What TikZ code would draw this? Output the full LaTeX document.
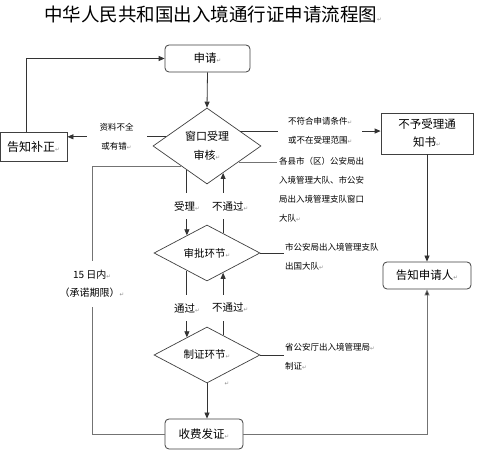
\documentclass[tikz,border=0pt]{standalone}
\usepackage{fontspec}
\setmainfont{Liberation Sans}
\newfontfamily\cjk{Noto Sans CJK SC}
\newfontfamily\dvs{DejaVu Sans}
\usetikzlibrary{shapes.geometric,arrows.meta,calc}
\newcommand\rmk{{\dvs\fontsize{5.5}{6}\selectfont\color{black!45}↵}}
\begin{document}
\begin{tikzpicture}[x=1pt,y=-1pt,
  every node/.style={font=\cjk},
  ln/.style={draw=black!80, line width=0.8pt},
  gln/.style={draw=black!55, line width=0.8pt},
  arr/.style={ln,-{Triangle[length=6pt,width=5pt]}},
  garr/.style={gln,-{Triangle[length=6pt,width=5pt,fill=black!85]}},
  rbox/.style={draw=black!75, rounded corners=4pt, line width=0.8pt, align=center, inner sep=0},
  sbox/.style={draw=black!75, line width=0.8pt, align=center, inner sep=0},
  dia/.style={diamond, shape aspect=2, draw=black!75, line width=0.7pt, inner sep=0, align=center},
  lab/.style={fill=white, align=center, font=\cjk\fontsize{10.5}{18}\selectfont, inner xsep=1pt, inner ysep=8pt},
  slab/.style={fill=white, align=center, font=\cjk\fontsize{8.5}{19}\selectfont, inner sep=0pt},
  small/.style={font=\cjk\fontsize{8.5}{19}\selectfont, align=left, inner sep=0}
]
\useasboundingbox[fill=white] (0,0) rectangle (488,462);

% title
\node[anchor=west, inner sep=0, font=\cjk\fontsize{18.5}{20}\selectfont] (title) at (44,14) {中华人民共和国出入境通行证申请流程图\rmk};

% boxes and decisions
\node[rbox, minimum width=85, minimum height=27, font=\cjk\fontsize{11.5}{14}\selectfont] (apply) at (207.5,58.5) {申请\rmk};
\node[dia, minimum width=108, minimum height=76, font=\cjk\fontsize{11}{19}\selectfont] (d1) at (207,146) {窗口受理\\审核\rmk};
\node[sbox, minimum width=67, minimum height=29, font=\cjk\fontsize{12}{14}\selectfont] (fix) at (33.5,146.5) {告知补正\rmk};
\node[sbox, minimum width=92, minimum height=41, font=\cjk\fontsize{11.5}{18}\selectfont] (rej) at (427,133.5) {不予受理通\\知书\rmk};
\node[rbox, minimum width=88, minimum height=27, font=\cjk\fontsize{11.5}{14}\selectfont] (notify) at (427,275.5) {告知申请人\rmk};
\node[dia, minimum width=106, minimum height=56, font=\cjk\fontsize{10.5}{14}\selectfont] (d2) at (207,253) {审批环节\rmk};
\node[dia, minimum width=106, minimum height=56, font=\cjk\fontsize{10.5}{14}\selectfont] (d3) at (207,355) {制证环节\rmk};
\node[rbox, minimum width=78, minimum height=30, font=\cjk\fontsize{11.5}{14}\selectfont] (fee) at (204,434) {收费发证\rmk};

% side texts
\node[small, anchor=west] (t1) at (279,190) {各县市（区）公安局出\\入境管理大队、市公安\\局出入境管理支队窗口\\大队\rmk};
\node[small, anchor=west] (t2) at (285,257) {市公安局出入境管理支队\\出国大队\rmk};
\node[small, anchor=west] (t3) at (285,357) {省公安厅出入境管理局\rmk\\制证\rmk};
\node[inner sep=0] (stray) at (227,384) {\rmk};

% connectors
\coordinate (p1) at ($(d1.west)!0.24!(d1.north)$);
\draw[arr] (p1) -- node[slab, inner xsep=13pt, inner ysep=1pt] {资料不全\\或有错\rmk} (p1 -| fix.east);

\coordinate (p2) at ($(d1.east)!0.39!(d1.north)$);
\draw[arr] (p2) -- node[slab, pos=0.57, inner xsep=10pt, inner ysep=1pt] {不符合申请条件\rmk\\或不在受理范围\rmk} (p2 -| rej.west);

\coordinate (p3) at ($(d1.east)!0.42!(d1.south)$);
\draw[gln, shorten >=2pt] (p3) -- (p3 -| t1.west);

\coordinate (f1) at ($(fix.north west)!0.4!(fix.north east)$);
\draw[arr] (f1) |- (apply.west);
\draw[arr] (apply.south) -- (d1.north);

\coordinate (a1) at ($(d1.south)!0.37!(d1.west)$);
\coordinate (a2) at ($(d2.north)!0.377!(d2.west)$);
\draw[arr] (a1) -- node[lab, pos=0.55] {受理\rmk} (a1 |- a2);
\coordinate (b1) at ($(d1.south)!0.296!(d1.east)$);
\coordinate (b2) at ($(d2.north)!0.302!(d2.east)$);
\draw[arr] (b2) -- node[lab, pos=0.45, xshift=7pt] {不通过\rmk} (b2 |- b1);

\coordinate (c1) at ($(d2.south)!0.377!(d2.west)$);
\coordinate (c2) at ($(d3.north)!0.377!(d3.west)$);
\draw[arr] (c1) -- node[lab, pos=0.56] {通过\rmk} (c1 |- c2);
\coordinate (e1) at ($(d2.south)!0.302!(d2.east)$);
\coordinate (e2) at ($(d3.north)!0.302!(d3.east)$);
\draw[arr] (e2) -- node[lab, pos=0.44, xshift=7pt] {不通过\rmk} (e2 |- e1);

\draw[ln, shorten >=1pt] (d2.east) -- (d2.east -| t2.west);
\draw[ln, shorten >=1pt] (d3.east) -- (d3.east -| t3.west);
\draw[arr] (d3.south) -- (d3.south |- fee.north);

\draw[arr] (rej.south) -- (notify.north);
\draw[garr] (fee.east) -| (notify.south);

\coordinate (l1) at ($(d1.west)!0.53!(d1.south)$);
\coordinate (lx) at (92,0);
\draw[gln] (fee.west) -- (fee.west -| lx) -- node[lab, pos=0.56, font=\cjk\fontsize{10}{18}\selectfont, inner ysep=9pt, inner xsep=1pt] {15 日内\rmk\\（承诺期限）\rmk} (lx |- l1) -- (l1);
\end{tikzpicture}
\end{document}
